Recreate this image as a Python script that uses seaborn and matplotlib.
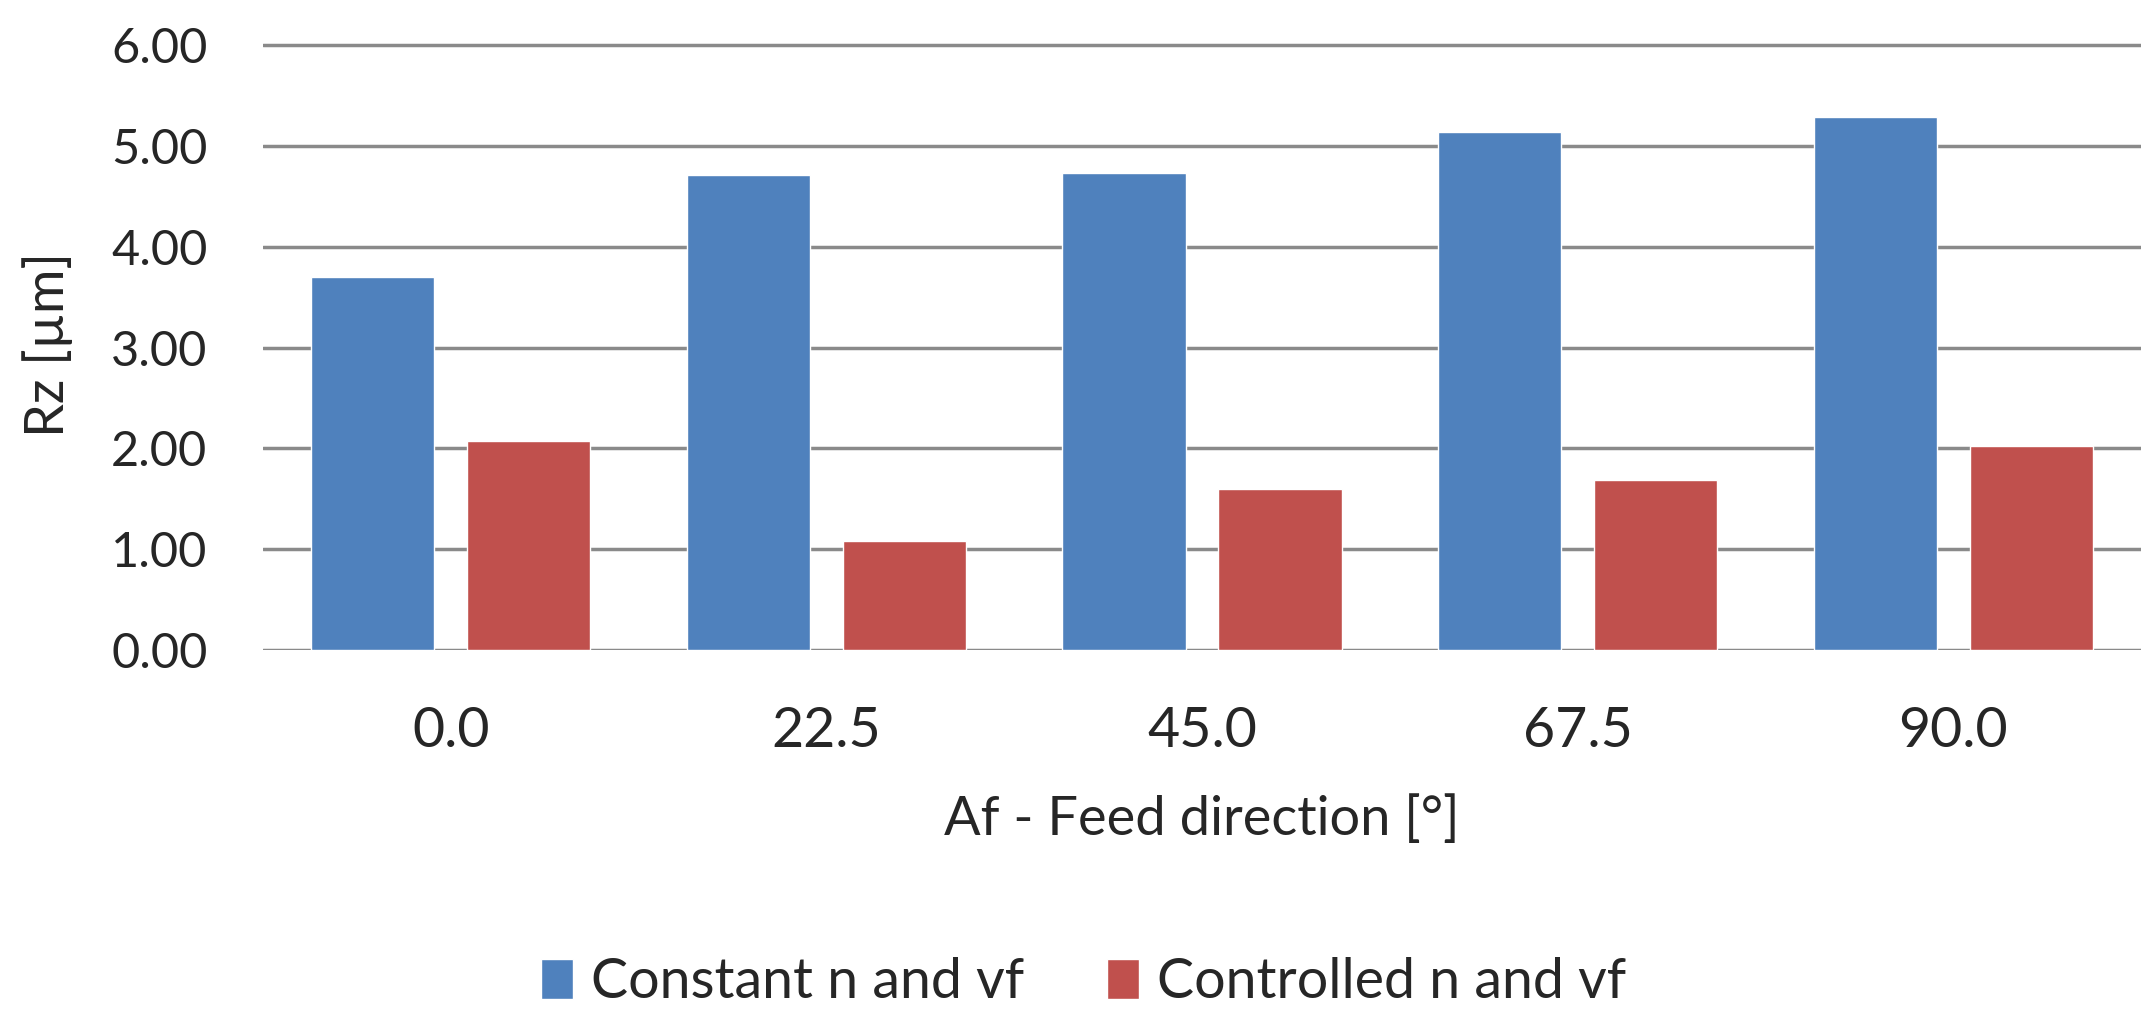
import matplotlib
matplotlib.use("Agg")
import matplotlib.pyplot as plt
import seaborn as sns
import pandas as pd

# Surface roughness Rz for each feed direction
angles = ["0.0", "22.5", "45.0", "67.5", "90.0"]
constant_vals = [3.70, 4.71, 4.73, 5.14, 5.29]
controlled_vals = [2.07, 1.08, 1.60, 1.69, 2.02]
series_names = ["Constant n and vf", "Controlled n and vf"]
y_ticks = [0, 1, 2, 3, 4, 5, 6]

df = pd.DataFrame({
    "angle": angles * 2,
    "Rz": constant_vals + controlled_vals,
    "series": [series_names[0]] * len(angles) + [series_names[1]] * len(angles),
})

sns.set_theme(style="white")
plt.rcParams["font.family"] = ["Lato", "DejaVu Sans"]
text_color = "#262626"
grid_color = "#8a8a8a"

W, H = 2141, 1009
fig = plt.figure(figsize=(W / 100, H / 100), dpi=100)
left, right, bottom, top = 263, 2141, 650, 40
ax = fig.add_axes([left / W, 1 - bottom / H, (right - left) / W, (bottom - top) / H])

sns.barplot(
    data=df, x="angle", y="Rz", hue="series", order=angles, hue_order=series_names,
    palette=["#4F81BD", "#C0504D"], saturation=1, width=0.83, gap=0.21,
    ax=ax, zorder=3,
)

ax.set_ylim(0, 6.05)
ax.set_xlim(-0.5, len(angles) - 0.5)
ax.set_yticks(y_ticks)
ax.set_yticklabels([f"{v:.2f}" for v in y_ticks])
ax.yaxis.grid(True, color=grid_color, linewidth=2.5)
ax.xaxis.grid(False)
ax.set_axisbelow(True)
for s in ax.spines.values():
    s.set_visible(False)

ax.tick_params(axis="y", length=0, pad=40, labelsize=35, labelcolor=text_color)
ax.tick_params(axis="x", length=0, pad=40, labelsize=40, labelcolor=text_color)

ax.set_ylabel("Rz [µm]", fontsize=39, color=text_color)
ax.yaxis.label.set_va("center")
ax.yaxis.set_label_coords(-0.1145, 0.5)
ax.set_xlabel("Af - Feed direction [°]", fontsize=39, color=text_color)
ax.xaxis.label.set_va("top")
ax.xaxis.set_label_coords(0.5, -0.236)

sns.move_legend(
    ax, "center", bbox_to_anchor=(0.506, 0.026), bbox_transform=fig.transFigure,
    ncol=2, frameon=False, title=None, fontsize=40, handlelength=0.58,
    handleheight=0.72, handletextpad=0.32, columnspacing=1.5,
)
for t in ax.get_legend().get_texts():
    t.set_color(text_color)

fig.savefig("out.png", dpi=100, facecolor="white")
